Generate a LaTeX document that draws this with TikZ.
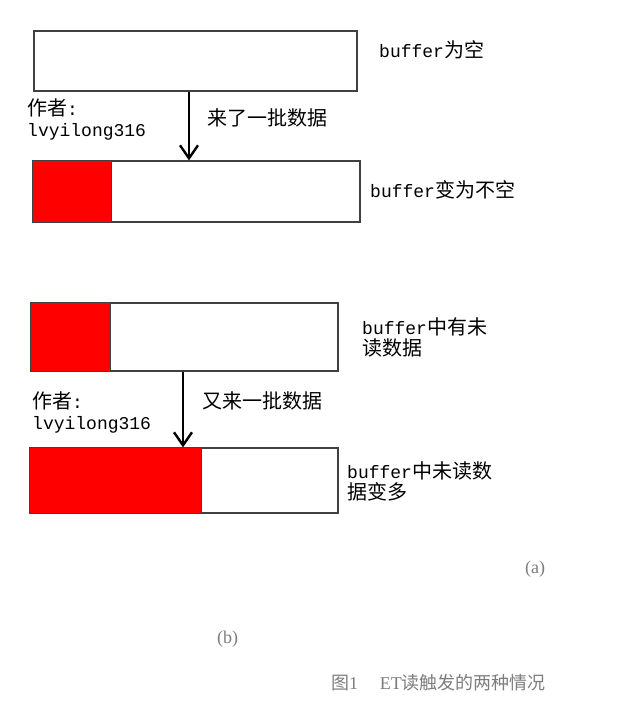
\documentclass[tikz,border=0pt]{standalone}
\usepackage{fontspec}
\setmainfont{Liberation Serif}
\setmonofont{Liberation Mono}
\newfontfamily\cjk{Noto Sans CJK SC}
\usetikzlibrary{arrows.meta}
\definecolor{bufline}{RGB}{64,64,64}
\definecolor{capgray}{RGB}{125,125,125}
\newcommand{\asc}[1]{{\ttfamily\fontsize{18}{21}\selectfont #1}}

\begin{document}
\begin{tikzpicture}[x=1pt,y=-1pt,
  bufbox/.style={draw=bufline,line width=1.2pt,inner sep=0pt},
  full/.style={fill=red,draw=bufline,line width=1.2pt},
  feed/.style={line width=2.4pt,-{Straight Barb[length=13pt,width=18pt]}},
  lbl/.style={anchor=west,inner sep=0pt,align=left,
    font=\fontsize{20}{21}\selectfont\cjk},
  captext/.style={inner sep=0pt,text=capgray,font=\fontsize{18}{20}\selectfont}]
  \useasboundingbox (0,0) rectangle (629,712);
  \fill[color=white] (0,0) rectangle (629,712);

  % (a): empty buffer gets data
  \node[bufbox,minimum width=323pt,minimum height=60pt] (buf1) at (195.5,61) {};
  \node[bufbox,minimum width=327pt,minimum height=61pt] (buf2) at (196.5,191.5) {};
  \filldraw[full] (buf2.north west) rectangle ([xshift=79pt]buf2.south west);
  \coordinate (drop1) at (189,0);
  \draw[feed] (buf1.south -| drop1) -- (buf2.north -| drop1);
  \node[lbl] (st1) at (379,50) {\asc{buffer}为空};
  \node[lbl] (st2) at (370,190) {\asc{buffer}变为不空};
  \node[lbl] (ev1) at (207,118) {来了一批数据};
  \node[lbl] (au1) at (27,119) {作者\asc{:}\\\asc{lvyilong316}};

  % (b): more data while unread data remains
  \node[bufbox,minimum width=307pt,minimum height=68pt] (buf3) at (184.5,337) {};
  \filldraw[full] (buf3.north west) rectangle ([xshift=80pt]buf3.south west);
  \node[bufbox,minimum width=308pt,minimum height=65pt] (buf4) at (184,480.5) {};
  \filldraw[full] (buf4.north west) rectangle ([xshift=172pt]buf4.south west);
  \coordinate (drop2) at (183,0);
  \draw[feed] (buf3.south -| drop2) -- (buf4.north -| drop2);
  \node[lbl] (st3) at (362,337) {\asc{buffer}中有未\\读数据};
  \node[lbl] (st4) at (347,481.5) {\asc{buffer}中未读数\\据变多};
  \node[lbl] (ev2) at (202,401) {又来一批数据};
  \node[lbl] (au2) at (32,412.5) {作者\asc{:}\\\asc{lvyilong316}};

  % caption
  \node[captext] (tagA) at (535,569) {(a)};
  \node[captext] (tagB) at (227.5,639) {(b)};
  \node[captext,anchor=west] (figcap) at (331,683)
    {{\cjk 图}1\hspace{1.2em}ET{\cjk 读触发的两种情况}};
\end{tikzpicture}
\end{document}
